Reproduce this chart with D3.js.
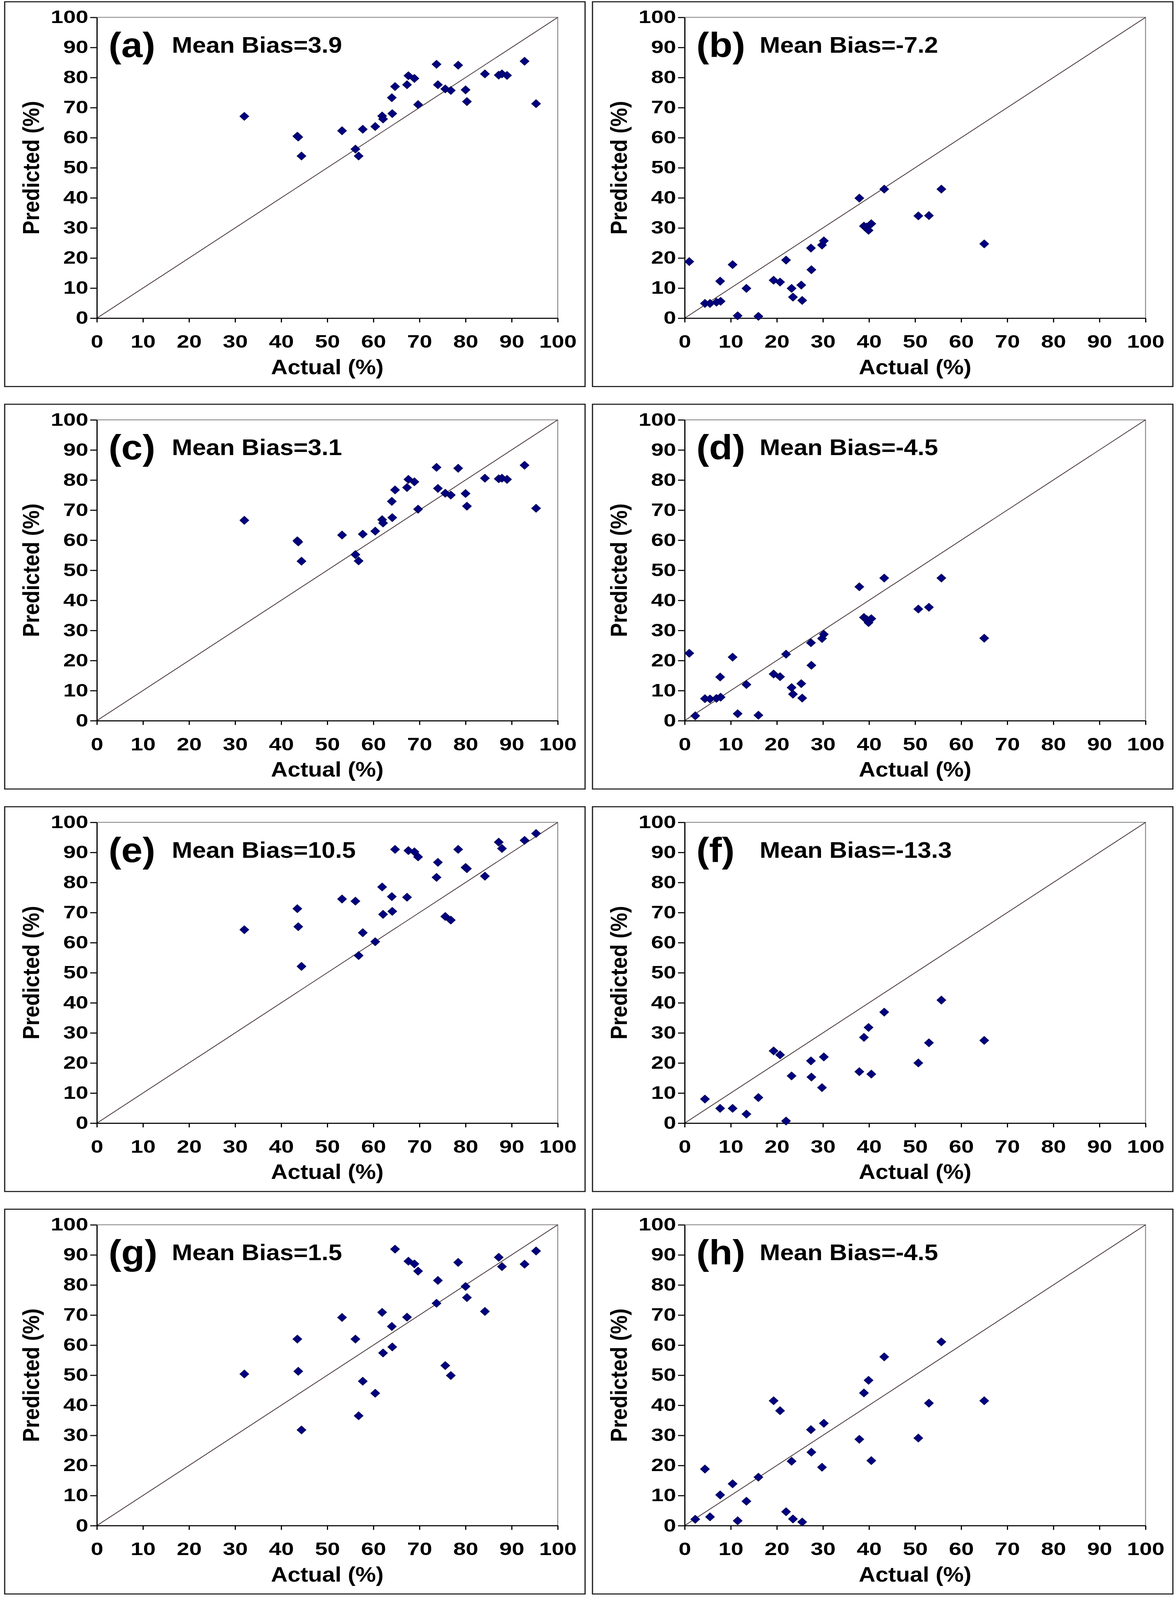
<!DOCTYPE html>
<html>
<head>
<meta charset="utf-8">
<script src="https://cdn.jsdelivr.net/npm/d3@7"></script>
<style>
  html, body { margin: 0; padding: 0; background: #fff; overflow: hidden; }
  svg { display: block; }
  svg text { font-family: "Liberation Sans", Arial, sans-serif; font-weight: bold; }
</style>
</head>
<body>
<script>
// actual values shared by the left column (a, c, e, g)
var actualA = [32.0, 43.5, 43.7, 44.4, 53.2, 56.1, 56.8, 57.7, 60.4, 61.9, 62.1, 64.0, 64.1, 64.7, 67.3, 67.6,
               68.9, 69.7, 73.7, 74.0, 75.6, 76.8, 78.4, 80.0, 80.3, 84.2, 87.2, 87.9, 89.0, 92.8, 95.3];
// actual values shared by the right column (b, d, f, h)
var actualB = [1.0, 2.3, 4.4, 5.5, 6.9, 7.7, 7.8, 10.4, 11.5, 13.4, 16.0, 19.3, 20.7, 22.0, 23.2, 23.5,
               25.3, 25.5, 27.4, 27.5, 29.8, 30.2, 37.9, 38.9, 39.5, 39.9, 40.5, 43.3, 50.7, 53.0, 55.7, 65.0];

// predicted values, null where no marker shows
var predA = [67.1, 60.5, 60.2, 53.9, 62.3, 56.2, 53.9, 62.8, 63.7, 67.2, 66.2, 73.3, 68.0, 77.0, 77.6, 80.6,
             79.7, 71.0, 84.4, 77.6, 76.2, 75.7, 84.1, 75.9, 72.0, 81.2, 80.8, 81.2, 80.7, 85.4, 71.3];
var predB = [18.8, null, 4.9, 4.9, 5.3, 12.3, 5.6, 17.8, 0.8, 9.9, 0.6, 12.6, 12.0, 19.3, 9.9, 7.0,
             11.0, 5.9, 23.3, 16.1, 24.3, 25.7, 39.9, 30.6, 30.3, 29.2, 31.4, 42.9, 34.0, 34.1, 42.9, 24.7];
var predC = [66.6, 59.8, 59.4, 53.0, 61.7, 55.2, 53.1, 62.0, 63.0, 66.8, 65.7, 72.9, 67.5, 76.7, 77.5, 80.2,
             79.4, 70.3, 84.2, 77.2, 75.6, 75.0, 83.9, 75.5, 71.3, 80.6, 80.4, 80.6, 80.2, 84.9, 70.6];
var predD = [22.4, 1.6, 7.3, 7.2, 7.4, 14.5, 7.8, 21.1, 2.3, 12.0, 1.8, 15.5, 14.6, 22.1, 11.0, 8.8,
             12.3, 7.5, 25.9, 18.4, 27.3, 28.7, 44.5, 34.3, 33.6, 32.6, 33.9, 47.4, 37.1, 37.7, 47.4, 27.4];
var predE = [64.3, 71.3, 65.3, 52.1, 74.5, 73.8, 55.7, 63.3, 60.3, 78.5, 69.4, 75.3, 70.4, 91.0, 75.1, 90.6,
             90.2, 88.5, 81.7, 86.7, 68.7, 67.5, 91.0, 85.0, 84.6, 82.1, 93.4, 91.3, null, 94.0, 96.3];
var predF = [null, null, 8.0, null, null, 4.9, null, 4.9, null, 3.0, 8.5, 24.0, 22.7, 0.7, 15.7, null,
             null, null, 20.7, 15.3, 11.8, 22.0, 17.1, 28.5, null, 31.8, 16.3, 36.9, 20.0, 26.7, 40.9, 27.5];
var predG = [50.4, 62.0, 51.3, 31.8, 69.2, 62.0, 36.5, 48.0, 44.0, 70.9, 57.4, 66.2, 59.4, 91.9, 69.3, 87.9,
             87.0, 84.6, 73.9, 81.5, 53.2, 49.9, 87.5, 79.5, 75.8, 71.2, 89.2, 86.1, null, 86.9, 91.3];
var predH = [null, 2.1, 18.8, 2.9, null, 10.2, null, 13.9, 1.6, 8.1, 16.1, 41.5, 38.2, 4.6, 21.4, 2.2,
             null, 1.2, 31.9, 24.4, 19.4, 34.0, 28.7, 44.1, null, 48.3, 21.6, 56.1, 29.1, 40.7, 61.1, 41.5];

var panelLabels = ["(a)", "(b)", "(c)", "(d)", "(e)", "(f)", "(g)", "(h)"];
var meanBias = ["3.9", "-7.2", "3.1", "-4.5", "10.5", "-13.3", "1.5", "-4.5"];
var axisTicks = [0, 10, 20, 30, 40, 50, 60, 70, 80, 90, 100];
var xTitle = "Actual (%)", yTitle = "Predicted (%)";

var preds = [predA, predB, predC, predD, predE, predF, predG, predH];

//drawing is laid out on the 3011 x 4516 sheet, then fitted to the window
var W = 3011, H = 4516;
var boxW = 1486, boxH = 1086, pitch = 1136;
var boxLeft = [12, 1517], boxTop0 = 5;
var plotW = 1180, plotH = 849, offL = 236, offT = 44;

var svg = d3.select("body").append("svg")
    .attr("width", window.innerWidth || W)
    .attr("height", window.innerHeight || H)
    .attr("viewBox", "0 0 " + W + " " + H)
    .attr("preserveAspectRatio", "none");

panelLabels.forEach(function(lab, i) {
    var col = i % 2, row = Math.floor(i / 2);
    var bx = boxLeft[col], by = boxTop0 + row * pitch;
    var actual = col === 0 ? actualA : actualB;
    var pts = actual.map(function(a, k) { return { a: a, p: preds[i][k] }; })
        .filter(function(d) { return d.p !== null; });

    //outer panel frame
    svg.append("rect")
        .attr("x", bx).attr("y", by)
        .attr("width", boxW).attr("height", boxH)
        .style("fill", "#fff")
        .style("stroke", "#1a1a1a")
        .style("stroke-width", 3);

    var g = svg.append("g")
        .attr("transform", "translate(" + (bx + offL) + "," + (by + offT) + ")");

    var x = d3.scaleLinear().domain([0, 100]).range([0, plotW]);
    var y = d3.scaleLinear().domain([0, 100]).range([plotH, 0]);

    //gray plot-area border (top and right)
    g.append("path")
        .attr("d", "M0,0H" + plotW + "V" + plotH)
        .style("fill", "none")
        .style("stroke", "#8c8c8c")
        .style("stroke-width", 2.5);

    //1:1 line
    g.append("line")
        .attr("x1", x(0)).attr("y1", y(0))
        .attr("x2", x(100)).attr("y2", y(100))
        .style("stroke", "#3d2b2b")
        .style("stroke-width", 2);

    var yAxis = g.append("g")
        .call(d3.axisLeft(y).tickValues(axisTicks).tickSize(17).tickPadding(5).tickSizeOuter(0));
    var xAxis = g.append("g")
        .attr("transform", "translate(0," + plotH + ")")
        .call(d3.axisBottom(x).tickValues(axisTicks).tickSize(12).tickPadding(36).tickSizeOuter(0));

    [xAxis, yAxis].forEach(function(ax) {
        ax.select(".domain").style("stroke", "#000").style("stroke-width", 3);
        ax.selectAll(".tick line").style("stroke", "#000").style("stroke-width", 3);
        ax.selectAll(".tick text")
            .style("font-size", "50px")
            .style("fill", "#000")
            .attr("textLength", function(d) { return String(d).length * 32; })
            .attr("lengthAdjust", "spacingAndGlyphs");
    });

    //diamond markers
    g.selectAll(".pt")
        .data(pts)
        .enter()
        .append("path")
        .attr("class", "pt")
        .attr("d", d3.symbol().type(d3.symbolSquare).size(265))
        .attr("transform", function(d) {
            return "translate(" + x(d.a) + "," + y(d.p) + ") rotate(45)";
        })
        .style("fill", "#000080")
        .style("stroke", "#00004d")
        .style("stroke-width", 1.5);

    //panel letter and bias
    g.append("text")
        .attr("x", 30).attr("y", 112)
        .style("font-size", "98px")
        .text(lab);
    g.append("text")
        .attr("x", 192).attr("y", 100)
        .style("font-size", "63px")
        .text("Mean Bias=" + meanBias[i]);

    //axis titles
    g.append("text")
        .attr("x", plotW / 2).attr("y", plotH + 158)
        .attr("text-anchor", "middle")
        .style("font-size", "59px")
        .text(xTitle);
    g.append("text")
        .attr("transform", "translate(-148," + (plotH / 2) + ") rotate(-90)")
        .attr("text-anchor", "middle")
        .style("font-size", "59px")
        .text(yTitle);
});
</script>
</body>
</html>
